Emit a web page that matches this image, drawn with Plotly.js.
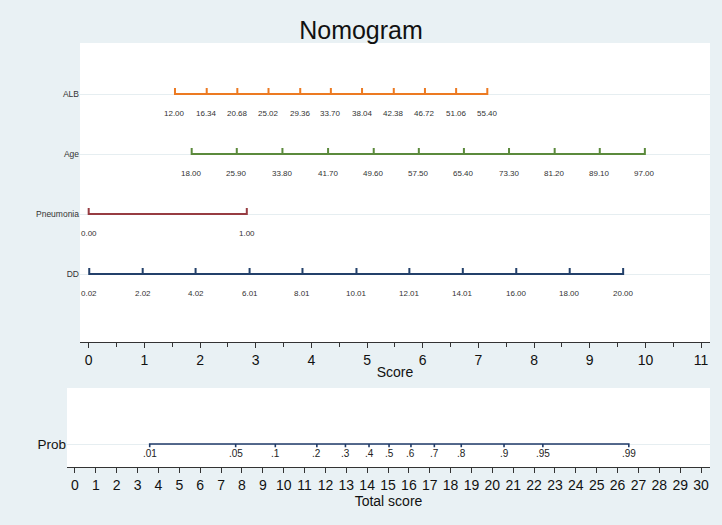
<!DOCTYPE html>
<html>
<head>
<meta charset="utf-8">
<script src="https://cdn.plot.ly/plotly-3.0.1.min.js"></script>
<style>
  html, body { margin: 0; padding: 0; background: #e9f1f4; }
  #chart { width: 722px; height: 525px; }
</style>
</head>
<body>
<div id="chart"></div>
<script>
// Predictor names, top to bottom
const variables = ['ALB', 'Age', 'Pneumonia', 'DD'];

// Value labels of each predictor scale and the points (Score) each one sits at
const albLabels = ['12.00', '16.34', '20.68', '25.02', '29.36', '33.70', '38.04', '42.38', '46.72', '51.06', '55.40'];
const albPoints = [1.55, 2.12, 2.67, 3.23, 3.80, 4.35, 4.91, 5.48, 6.04, 6.60, 7.16];

const ageLabels = ['18.00', '25.90', '33.80', '41.70', '49.60', '57.50', '65.40', '73.30', '81.20', '89.10', '97.00'];
const agePoints = [1.85, 2.66, 3.48, 4.30, 5.12, 5.93, 6.74, 7.55, 8.37, 9.18, 9.99];

const pneumoniaLabels = ['0.00', '1.00'];
const pneumoniaPoints = [0.00, 2.84];

const ddLabels = ['0.02', '2.02', '4.02', '6.01', '8.01', '10.01', '12.01', '14.01', '16.00', '18.00', '20.00'];
const ddPoints = [0.01, 0.97, 1.92, 2.89, 3.84, 4.81, 5.76, 6.72, 7.68, 8.64, 9.60];

// Predicted probability labels and the total score each corresponds to
const probLabels = ['.01', '.05', '.1', '.2', '.3', '.4', '.5', '.6', '.7', '.8', '.9', '.95', '.99'];
const probTotals = [3.58, 7.70, 9.60, 11.59, 12.96, 14.09, 15.05, 16.10, 17.22, 18.51, 20.56, 22.42, 26.54];

const scales = [
  { labels: albLabels, points: albPoints, color: '#ec7a22' },
  { labels: ageLabels, points: agePoints, color: '#5b8a3c' },
  { labels: pneumoniaLabels, points: pneumoniaPoints, color: '#973c42' },
  { labels: ddLabels, points: ddPoints, color: '#23406a' }
];

const FONT = 'Liberation Sans, Arial, Helvetica, sans-serif';
const rows = variables.map((_, i) => variables.length - i);

// Horizontal scale with small tick marks at each labelled value
function bracketPath(points, row, h) {
  const xs = [], ys = [];
  points.forEach((p, k) => {
    if (k === 0) { xs.push(p, p); ys.push(row + h, row); }
    else { xs.push(p, p, p); ys.push(row, row + h, row); }
  });
  return { xs, ys };
}

const traces = [];
const annotations = [];

scales.forEach((s, i) => {
  const row = rows[i];
  const path = bracketPath(s.points, row, 0.1);
  traces.push({
    x: path.xs, y: path.ys, xaxis: 'x', yaxis: 'y',
    type: 'scatter', mode: 'lines',
    line: { color: s.color, width: 2 },
    hoverinfo: 'skip'
  });
  s.points.forEach((p, j) => {
    annotations.push({
      x: p, y: row, xref: 'x', yref: 'y', text: s.labels[j],
      showarrow: false, yshift: -19,
      font: { family: FONT, size: 8, color: '#333' }
    });
  });
});

const probRow = 1;
const probPath = bracketPath(probTotals, probRow, -0.04);
traces.push({
  x: probPath.xs, y: probPath.ys, xaxis: 'x2', yaxis: 'y2',
  type: 'scatter', mode: 'lines',
  line: { color: '#1f3a68', width: 1.6 },
  hoverinfo: 'skip'
});
probTotals.forEach((t, j) => {
  annotations.push({
    x: t, y: probRow, xref: 'x2', yref: 'y2', text: probLabels[j],
    showarrow: false, yshift: -9,
    font: { family: FONT, size: 10, color: '#222' }
  });
});

const axisCommon = {
  ticks: 'outside', ticklen: 5, tickwidth: 1, tickcolor: '#333',
  showline: true, linecolor: '#333', linewidth: 1,
  showgrid: false, zeroline: false, fixedrange: true,
  tickmode: 'linear', tick0: 0, dtick: 1,
  tickfont: { family: FONT, size: 14, color: '#111' }
};

const layout = {
  width: 722, height: 525,
  paper_bgcolor: '#e9f1f4', plot_bgcolor: '#ffffff',
  margin: { l: 67, r: 12, t: 43, b: 58 },
  showlegend: false,
  title: {
    text: 'Nomogram', xref: 'container', yref: 'container',
    x: 0.5, xanchor: 'center', y: 1 - 30 / 525, yanchor: 'middle',
    font: { family: FONT, size: 25, color: '#111' }
  },
  xaxis: Object.assign({}, axisCommon, {
    domain: [13 / 643, 1], range: [-0.156, 11.16], anchor: 'y',
    minor: { dtick: 0.5, ticks: 'outside', ticklen: 4, tickcolor: '#333' },
    title: { text: 'Score', standoff: 0, font: { family: FONT, size: 14, color: '#111' } }
  }),
  yaxis: {
    domain: [125 / 424, 1], range: [-0.133, 4.85], anchor: 'x',
    tickvals: rows, ticktext: variables, ticks: '',
    showgrid: true, gridcolor: '#e6eef1', gridwidth: 1,
    zeroline: false, showline: false, fixedrange: true,
    tickfont: { family: FONT, size: 8.5, color: '#333' }
  },
  xaxis2: Object.assign({}, axisCommon, {
    domain: [0, 1], range: [-0.383, 30.43], anchor: 'y2',
    title: { text: 'Total score', standoff: 0, font: { family: FONT, size: 14, color: '#111' } }
  }),
  yaxis2: {
    domain: [0, 79 / 424], range: [0.709, 1.709], anchor: 'x2',
    tickvals: [probRow], ticktext: ['Prob'], ticks: '',
    showgrid: true, gridcolor: '#e6eef1', gridwidth: 1,
    zeroline: false, showline: false, fixedrange: true,
    tickfont: { family: FONT, size: 13.5, color: '#111' }
  },
  annotations: annotations
};

Plotly.newPlot('chart', traces, layout, { displayModeBar: false, staticPlot: true });
</script>
</body>
</html>
